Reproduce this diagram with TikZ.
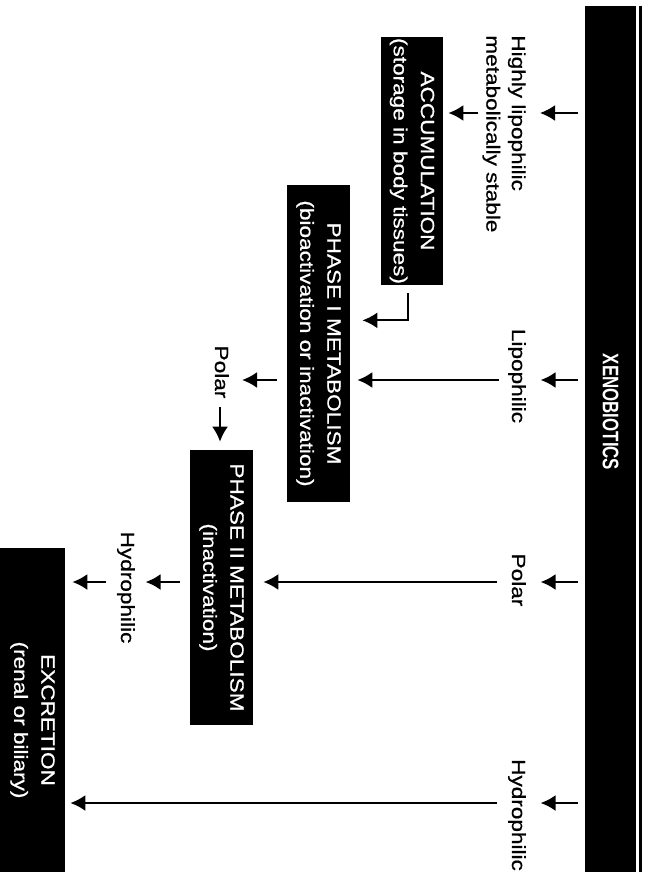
\documentclass[tikz,border=0pt]{standalone}
\usepackage{fontspec}
\setmainfont{Liberation Sans}
\newfontfamily\lblfont{Liberation Sans}[FakeStretch=1.19, FakeBold=0.8]
\newfontfamily\barfont{Liberation Sans}[FakeStretch=0.75]
\usetikzlibrary{arrows.meta}

\begin{document}
\begin{tikzpicture}[x=0.2mm, y=0.2mm,
   flow/.style={-{Latex[length=3mm,width=3.2mm]}, line width=0.4mm},
   blackbox/.style={fill=black, text=white, rotate=-90, align=center, inner sep=0pt, font=\lblfont\fontsize{10.8}{15.5}\selectfont},
   lbl/.style={rotate=-90, inner sep=0pt, text height=8.1pt, text depth=2.4pt, font=\lblfont\fontsize{10.8}{14.5}\selectfont}]
   \useasboundingbox (0,0) rectangle (645,-872);
   \coordinate (rowA) at (0,-113);
   \coordinate (rowB) at (0,-380);
   \coordinate (rowC) at (0,-582);
   \coordinate (rowD) at (0,-803);
   \node[blackbox, minimum width=173.2mm, minimum height=10.2mm] (bar) at (610.5,-439) {};
   \node[rotate=-90, text=white, inner sep=0pt, font=\barfont\bfseries\fontsize{12.8}{14}\selectfont] (xeno) at (610.5,-412) {XENOBIOTICS};
   \draw[line width=0.6mm] ([xshift=0.9mm]bar.north west) -- ([xshift=0.9mm]bar.north east);
   \node[rotate=-90, inner sep=0pt, anchor=north west, align=left, font=\lblfont\fontsize{10.8}{14.5}\selectfont] (hl) at (526,-35) {Highly lipophilic\\metabolically stable};
   \node[lbl, anchor=base] (lipo) at (512,-376) {Lipophilic};
   \node[lbl, anchor=base] (polr) at (512,-580) {Polar};
   \node[lbl, anchor=base] (hydr) at (512,-815) {Hydrophilic};
   \node[blackbox, minimum width=49.6mm, minimum height=12.4mm] (acc) at (412,-161) {ACCUMULATION\\(storage in body tissues)};
   \node[blackbox, minimum width=63.4mm, minimum height=12.6mm] (p1) at (318.5,-343.5) {PHASE I METABOLISM\\(bioactivation or inactivation)};
   \node[blackbox, minimum width=55mm, minimum height=12.6mm] (p2) at (221.5,-587.5) {PHASE II METABOLISM\\(inactivation)};
   \node[blackbox, minimum width=68.8mm, minimum height=13mm] (exc) at (32.5,-720) {EXCRETION\\(renal or biliary)};
   \node[lbl, anchor=base] (pol2) at (215,-372) {Polar};
   \node[lbl, anchor=base] (hyd2) at (121,-587.5) {Hydrophilic};
   % arrows out of the bar
   \draw[flow, shorten <=1.4mm, shorten >=2.8mm] (bar.south |- rowA) -- (hl.north |- rowA);
   \draw[flow, shorten <=1.4mm, shorten >=2.8mm] (bar.south |- rowB) -- (lipo.north |- rowB);
   \draw[flow, shorten <=1.4mm, shorten >=2.8mm] (bar.south |- rowC) -- (polr.north |- rowC);
   \draw[flow, shorten <=1.4mm, shorten >=2.8mm] (bar.south |- rowD) -- (hydr.north |- rowD);
   % into the boxes
   \draw[flow, shorten <=0.8mm, shorten >=1mm] (hl.south |- rowA) -- (acc.north |- rowA);
   \draw[flow, shorten <=1.6mm, shorten >=1.4mm] (lipo.south |- rowB) -- (p1.north |- rowB);
   \draw[flow, shorten <=2mm, shorten >=2mm] (polr.south |- rowC) -- (p2.north |- rowC);
   \draw[flow, shorten <=2mm, shorten >=1mm] (hydr.south |- rowD) -- (exc.north |- rowD);
   \draw[flow, shorten <=1.6mm, shorten >=2.4mm] ([xshift=-0.8mm]acc.east) |- ([yshift=-7mm]acc.east -| p1.north);
   \draw[flow, shorten <=2mm, shorten >=2.5mm] (p1.south |- rowB) -- (pol2.north |- rowB);
   \draw[flow, shorten <=1.6mm, shorten >=1.6mm] (pol2.east) -- (pol2.east |- p2.west);
   \draw[flow, shorten <=2mm, shorten >=2mm] (p2.south |- rowC) -- (hyd2.north |- rowC);
   \draw[flow, shorten <=2mm, shorten >=1.4mm] (hyd2.south |- rowC) -- (exc.north |- rowC);
\end{tikzpicture}
\end{document}
